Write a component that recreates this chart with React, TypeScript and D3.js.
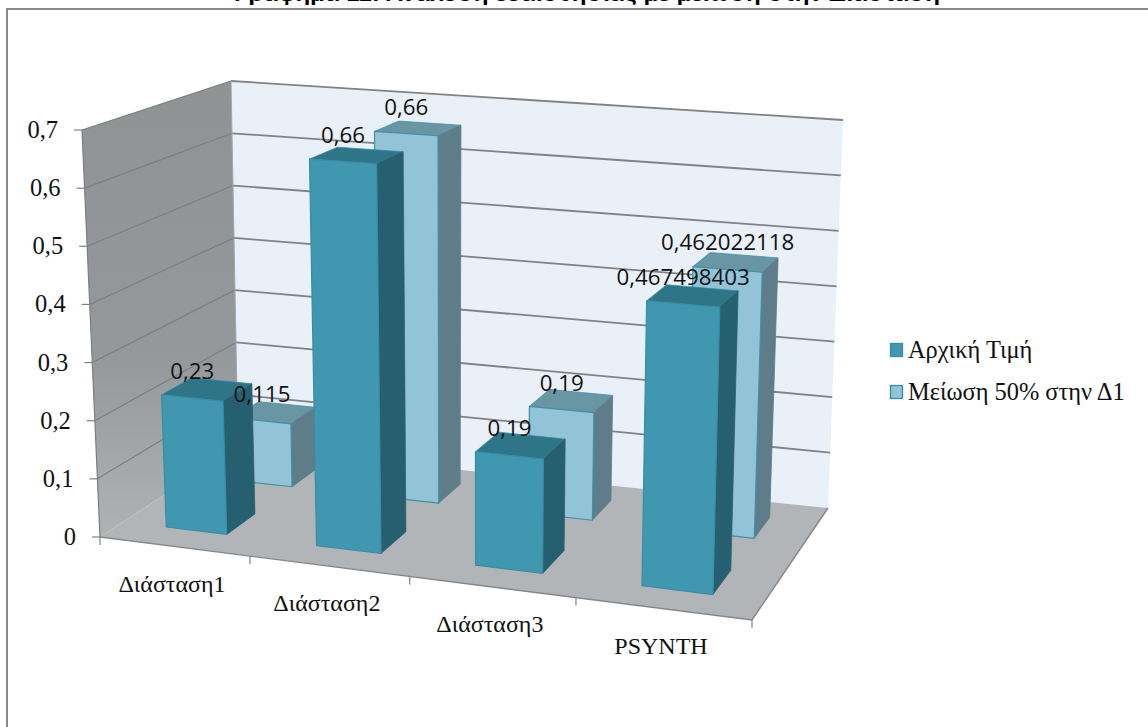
import React from "react";
import * as d3 from "d3";

const categories = ["Διάσταση1", "Διάσταση2", "Διάσταση3", "PSYNTH"];
const seriesNames = ["Αρχική Τιμή", "Μείωση 50% στην Δ1"];
const initialValues = [0.23, 0.66, 0.19, 0.467498403];
const reducedValues = [0.115, 0.66, 0.19, 0.462022118];
const initialLabels = ["0,23", "0,66", "0,19", "0,467498403"];
const reducedLabels = ["0,115", "0,66", "0,19", "0,462022118"];
const yTicks = [0, 0.1, 0.2, 0.3, 0.4, 0.5, 0.6, 0.7];
const titleText = "Γράφημα 11: Ανάλυση ευαισθησίας με μείωση στην Διάσταση";

type P = [number, number];
const W = 1148, H = 727;
// perspective box: screen position of the eight plot-box corners
const fA: P = [100, 537], fB: P = [752, 620], fC: P = [828, 508], fD: P = [238, 447];
const tA: P = [82, 130], tB: P = [764, 178], tC: P = [843, 120], tD: P = [231, 81];

const mix = (a: P, b: P, t: number): P => [a[0] + (b[0] - a[0]) * t, a[1] + (b[1] - a[1]) * t];
const project = (u: number, w: number, h: number): P => {
  const floor = mix(mix(fA, fB, u), mix(fD, fC, u), w);
  const top = mix(mix(tA, tB, u), mix(tD, tC, u), w);
  return mix(floor, top, h);
};
const catU = d3.scaleLinear().domain([0, 1, 2, 3, 4]).range([0, 0.23, 0.475, 0.73, 1]);
const yH = d3.scaleLinear().domain([0, 0.7]).range([0, 1]);
const line = d3.line<P>();
const poly = (pts: P[]) => line(pts)! + "Z";

const BAND: [number, number] = [0.29, 0.7];
const DEPTHS: [number, number][] = [[0.17, 0.39], [0.68, 0.87]];
const colors = [
  { front: "#3f97b0", side: "#28606f", top: "#2e7488", edge: "#3a8ca6" },
  { front: "#93c3d7", side: "#5e7d88", top: "#6b96a4", edge: "#3f90a8" },
];

function Bar({ i, s, v }: { i: number; s: number; v: number }) {
  const u0 = catU(i + BAND[0]), u1 = catU(i + BAND[1]);
  const [w0, w1] = DEPTHS[s];
  const h = yH(v);
  const c = colors[s];
  return (
    <g strokeLinejoin="round">
      <path d={poly([project(u0, w0, h), project(u1, w0, h), project(u1, w1, h), project(u0, w1, h)])} fill={c.top} stroke={c.edge} strokeWidth={0.8} />
      <path d={poly([project(u1, w0, 0), project(u1, w1, 0), project(u1, w1, h), project(u1, w0, h)])} fill={c.side} stroke={c.side} strokeWidth={0.8} />
      <path d={poly([project(u0, w0, 0), project(u1, w0, 0), project(u1, w0, h), project(u0, w0, h)])} fill={c.front} stroke={c.edge} strokeWidth={1.2} />
    </g>
  );
}

function BarLabel({ i, s, v, text }: { i: number; s: number; v: number; text: string }) {
  const u = catU(i + (BAND[0] + BAND[1]) / 2);
  const p = project(u, DEPTHS[s][0], yH(v));
  return (
    <text x={p[0]} y={p[1] - 19} textAnchor="middle" fontFamily="'Open Sans', sans-serif" fontSize={22.3} fill="#111">
      {text}
    </text>
  );
}

export default function App() {
  const serif = "'Liberation Serif', serif";
  return (
    <svg width={W} height={H} viewBox={`0 0 ${W} ${H}`} style={{ position: "absolute", left: 0, top: 0, display: "block", background: "#fff" }}>
      <defs>
        <linearGradient id="leftWall" x1="0" y1="0" x2="0" y2="1">
          <stop offset="0" stopColor="#8f9394" />
          <stop offset="0.6" stopColor="#95989a" />
          <stop offset="1" stopColor="#b0b2b3" />
        </linearGradient>
        <filter id="soft" x="-5%" y="-5%" width="110%" height="110%">
          <feGaussianBlur stdDeviation="0.5" />
        </filter>
      </defs>

      <text x={587} y={0.8} textAnchor="middle" fontFamily="'Liberation Sans', sans-serif" fontWeight="bold" fontSize={21} textLength={706} lengthAdjust="spacingAndGlyphs" fill="#000">
        {titleText}
      </text>
      <path d="M7 727V9H1148" fill="none" stroke="#8a8a8a" strokeWidth={2} />

      <g filter="url(#soft)">
        <path d={poly([fD, fC, tC, tD])} fill="#e9f0f7" />
        <path d={poly([fA, fD, tD, tA])} fill="url(#leftWall)" />
        <path d={poly([fA, fB, fC, fD])} fill="#b2b5b8" />
        {yTicks.map((t) => {
          const h = yH(t);
          const a = project(0, 0, h), b = project(0, 1, h), c = project(1, 1, h);
          return (
            <g key={t} fill="none">
              {t > 0 && <path d={line([a, b])!} stroke="#7c7e7f" strokeWidth={1.2} />}
              {t > 0 && <path d={line([b, c])!} stroke="#808283" strokeWidth={1.8} />}
              <path d={line([a, [a[0] - 8, a[1]]])!} stroke="#808080" strokeWidth={1.2} />
            </g>
          );
        })}
        <path d={line([tD, fD])!} stroke="#a5a7a8" strokeWidth={1} fill="none" />
        <path d={line([tA, fA])!} stroke="#7c7e7f" strokeWidth={1.2} fill="none" />
        <path d={line([fA, fB, fC])!} stroke="#85888a" strokeWidth={1.4} fill="none" />
        {d3.range(0, 5).map((i) => {
          const p = project(catU(i), 0, 0);
          return <path key={i} d={line([p, [p[0], p[1] + 8]])!} stroke="#808080" strokeWidth={1.2} fill="none" />;
        })}
        {reducedValues.map((v, i) => <Bar key={i} i={i} s={1} v={v} />)}
        {initialValues.map((v, i) => <Bar key={i} i={i} s={0} v={v} />)}
      </g>

      {reducedValues.map((v, i) => <BarLabel key={i} i={i} s={1} v={v} text={reducedLabels[i]} />)}
      {initialValues.map((v, i) => <BarLabel key={i} i={i} s={0} v={v} text={initialLabels[i]} />)}

      {yTicks.map((t) => {
        const a = project(0, 0, yH(t));
        return (
          <text key={t} x={a[0] - 24} y={a[1] + 8} textAnchor="end" fontFamily={serif} fontSize={24.5} fill="#111">
            {String(t).replace(".", ",")}
          </text>
        );
      })}
      {categories.map((c, i) => {
        const p = project(catU(i + 0.5), 0, 0);
        return (
          <text key={c} x={p[0] - 3} y={p[1] + 45} textAnchor="middle" fontFamily={serif} fontSize={24} fill="#111">
            {c}
          </text>
        );
      })}

      {seriesNames.map((n, s) => {
        const rowY = d3.scalePoint<number>().domain([0, 1]).range([358, 400])(s)!;
        return (
          <g key={n}>
            <rect x={890.5} y={rowY - 14.5} width={12} height={13} fill={colors[s].front} stroke={colors[0].edge} strokeWidth={1.3} />
            <text x={908} y={rowY} fontFamily={serif} fontSize={24.4} fill="#111">{n}</text>
          </g>
        );
      })}
    </svg>
  );
}
